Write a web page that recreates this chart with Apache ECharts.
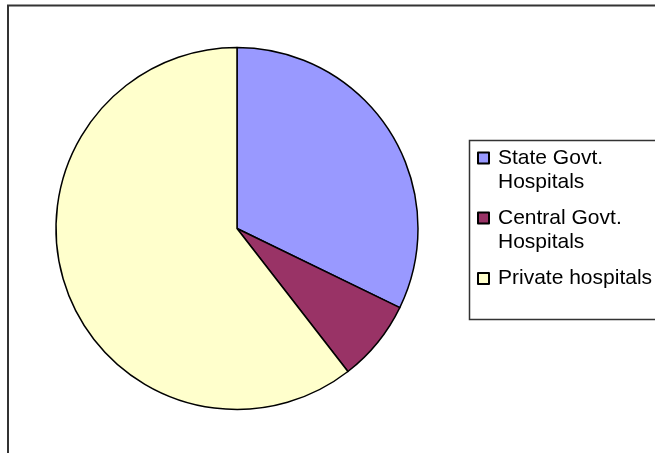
<!DOCTYPE html>
<html>
<head>
<meta charset="utf-8">
<script src="https://cdn.jsdelivr.net/npm/echarts@6/dist/echarts.min.js"></script>
<style>html,body{margin:0;padding:0;background:#fff;}#c{width:655px;height:453px;}</style>
</head>
<body>
<div id="c"></div>
<script>
var categories = ['State Govt. Hospitals', 'Central Govt. Hospitals', 'Private hospitals'];
var legendLabels = ['\nState Govt.\nHospitals', '\nCentral Govt.\nHospitals', 'Private hospitals'];
var values = [32.2, 7.3, 60.5];
var colors = ['#9999FF', '#993366', '#FFFFCC'];

var chart = echarts.init(document.getElementById('c'), null, {renderer: 'canvas'});
var font = '"Liberation Sans", Arial, sans-serif';

function mkLegend(i, top) {
  return {
    show: true,
    orient: 'vertical',
    left: 477,
    top: top,
    padding: 0,
    itemWidth: 11,
    itemHeight: 11,
    itemGap: 0,
    selectedMode: false,
    icon: 'rect',
    data: [categories[i]],
    formatter: function (name) { return legendLabels[categories.indexOf(name)]; },
    textStyle: {
      fontFamily: font,
      fontSize: 21,
      lineHeight: 24,
      color: '#000',
      padding: [0, 0, 0, 4]
    }
  };
}

chart.setOption({
  animation: false,
  backgroundColor: '#fff',
  color: colors,
  graphic: [
    {type: 'rect', shape: {x: 8, y: 5.5, width: 700, height: 500},
     style: {fill: 'none', stroke: '#333', lineWidth: 2}, silent: true, z: 0},
    {type: 'rect', shape: {x: 469.5, y: 140.5, width: 300, height: 179},
     style: {fill: '#fff', stroke: '#333', lineWidth: 1.5}, silent: true, z: 0}
  ],
  legend: [
    mkLegend(0, 122),
    mkLegend(1, 182),
    mkLegend(2, 266.5)
  ],
  series: [{
    type: 'pie',
    center: [237, 228.5],
    radius: [0, 181],
    startAngle: 90,
    clockwise: true,
    silent: true,
    label: {show: false},
    labelLine: {show: false},
    itemStyle: {borderColor: '#000', borderWidth: 1.5},
    data: categories.map(function (c, i) {
      return {name: c, value: values[i], itemStyle: {color: colors[i]}};
    }),
    z: 2
  }]
});
</script>
</body>
</html>
